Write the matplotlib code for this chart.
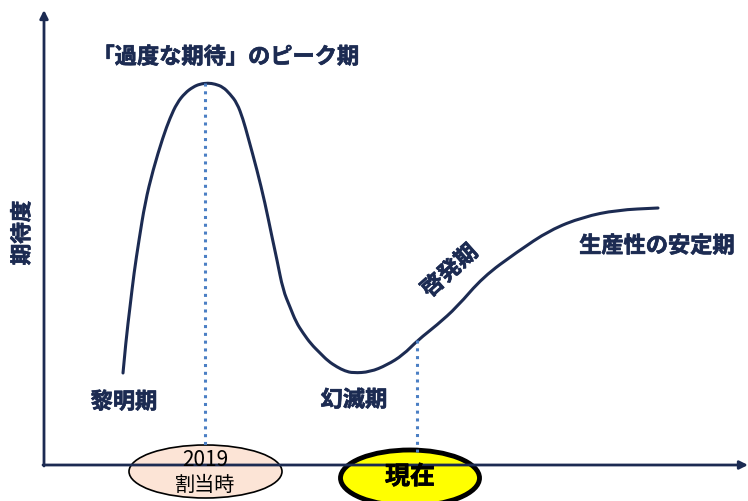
import numpy as np
import matplotlib.pyplot as plt
import matplotlib.patheffects as pe
from matplotlib.patches import Ellipse, PathPatch
from matplotlib.path import Path

plt.rcParams['font.family'] = ['Noto Sans CJK JP', 'DejaVu Sans']

# hype curve, traced in picture coordinates (x right, y down)
curve_x = [123, 126, 130, 134, 139, 145, 153, 163, 170, 177, 185, 193, 200, 208,
           215, 223, 230, 237, 243, 248, 257, 265, 272, 277, 283, 290, 296, 303,
           311, 320, 328, 337, 345, 353, 370, 387, 403, 418, 437, 457, 483, 517,
           550, 583, 617, 658]
curve_y = [373, 340, 307, 273, 240, 203, 170, 137, 118, 103, 93, 87, 84, 83,
           84, 87, 94, 103, 119, 137, 170, 203, 237, 260, 290, 307, 322, 333,
           344, 353, 361, 367, 371, 373, 372, 365, 355, 340, 325, 307, 277, 252,
           230, 217, 210, 208]

peak_x, peak_y = 205, 83
now_x, now_y = 417, 340

labels = ["「過度な期待」のピーク期", "黎明期", "幻滅期", "啓発期", "生産性の安定期"]
label_pos = [(226, 57), (124, 402), (354, 400), (450, 271), (657, 246)]
label_rot = [0, 0, 0, 42, 0]

navy = "#1c2b52"
blue = "#4b7fc4"


def smooth_path(xs, ys):
    # quadratic bezier through midpoints, traced points act as control points
    pts = list(zip(xs, ys))
    verts = [pts[0]]
    codes = [Path.MOVETO]
    for i in range(1, len(pts) - 1):
        mid = ((pts[i][0] + pts[i + 1][0]) / 2, (pts[i][1] + pts[i + 1][1]) / 2)
        verts += [pts[i], mid]
        codes += [Path.CURVE3, Path.CURVE3]
    verts.append(pts[-1])
    codes.append(Path.LINETO)
    return Path(verts, codes)


fig = plt.figure(figsize=(7.48, 5.01), dpi=100)
ax = fig.add_axes([0, 0, 1, 1])
ax.set_xlim(0, 748)
ax.set_ylim(501, 0)
ax.axis("off")

# axes with arrows
ax.annotate("", xy=(44, 10), xytext=(44, 466),
            arrowprops=dict(arrowstyle="-|>", color=navy, lw=2, mutation_scale=12,
                            shrinkA=0, shrinkB=0))
ax.annotate("", xy=(748, 465), xytext=(43, 465),
            arrowprops=dict(arrowstyle="-|>", color=navy, lw=2, mutation_scale=12,
                            shrinkA=0, shrinkB=0))

# dotted markers
ax.plot([peak_x, peak_x], [peak_y, 446], linestyle=(0, (1, 1.55)), color=blue, lw=2.2)
ax.plot([now_x, now_x], [now_y, 452], linestyle=(0, (1, 1.55)), color=blue, lw=2.2)

ax.add_patch(PathPatch(smooth_path(curve_x, curve_y), fill=False, edgecolor=navy,
                       lw=2.2, capstyle="round", joinstyle="round"))

# labels
bold = [pe.withStroke(linewidth=0.5, foreground=navy)]
for text, (x, y), rot in zip(labels, label_pos, label_rot):
    ax.text(x, y, text, ha="center", va="center", rotation=rot,
            fontsize=16, fontweight="bold", color=navy, path_effects=bold)

ax.text(22, 233, "期待度", ha="center", va="center", rotation=90,
        fontsize=15.5, fontweight="bold", color=navy, path_effects=bold)

# ellipses on the time axis
ax.add_patch(Ellipse((205.5, 471.5), 153, 53, facecolor="#fce4d6", edgecolor="black", lw=1.2))
ax.text(205.5, 460, "2019", ha="center", va="center", fontsize=15, color="black")
ax.text(205.5, 485, "割当時", ha="center", va="center", fontsize=14.5, color="black")

ax.add_patch(Ellipse((410, 478), 139, 56, facecolor="#ffff00", edgecolor="black", lw=3.5))
ax.text(410, 477, "現在", ha="center", va="center", fontsize=18, fontweight="bold",
        color="black", path_effects=[pe.withStroke(linewidth=0.5, foreground="black")])

plt.savefig("out.png", dpi=100)
plt.close()
